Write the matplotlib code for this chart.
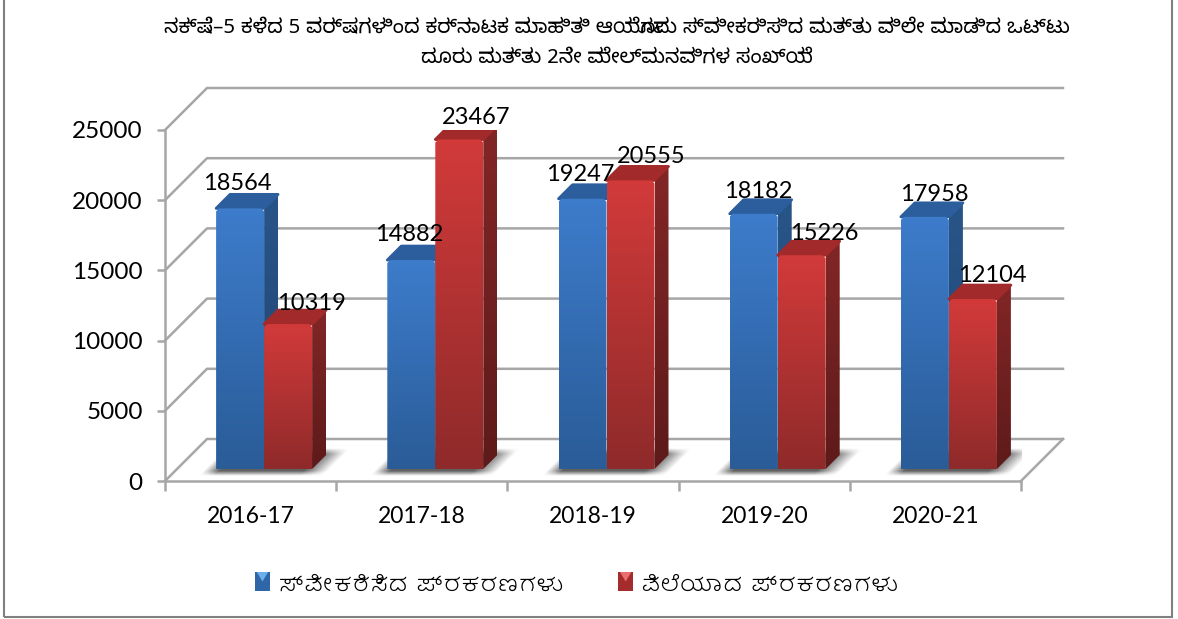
import numpy as np
import matplotlib
matplotlib.use('Agg')
import matplotlib.pyplot as plt
from matplotlib.colors import LinearSegmentedColormap
from matplotlib.legend_handler import HandlerBase
from matplotlib.patches import Polygon, Patch, Rectangle

categories = ['2016-17', '2017-18', '2018-19', '2019-20', '2020-21']
received = [18564, 14882, 19247, 18182, 17958]
disposed = [10319, 23467, 20555, 15226, 12104]
yticks = [0, 5000, 10000, 15000, 20000, 25000]
title = ('ನಕ್ಷೆ–5 ಕಳೆದ 5 ವರ್ಷಗಳಿಂದ ಕರ್ನಾಟಕ ಮಾಹಿತಿ ಆಯೋಗವು ಸ್ವೀಕರಿಸಿದ ಮತ್ತು ವಿಲೇ ಮಾಡಿದ ಒಟ್ಟು\n'
         'ದೂರು ಮತ್ತು 2ನೇ ಮೇಲ್ಮನವಿಗಳ ಸಂಖ್ಯೆ')
legend_labels = ['ಸ್ವೀಕರಿಸಿದ ಪ್ರಕರಣಗಳು', 'ವಿಲೆಯಾದ ಪ್ರಕರಣಗಳು']

W, H = 1178., 619.
plt.rcParams['font.family'] = ['Lato', 'DejaVu Sans']

fig = plt.figure(figsize=(W/100, H/100), dpi=100)
ax = fig.add_axes([165/W, 1-481/H, 856/W, 351/H])
ax.set_facecolor('none')

#pixel size of one category / one y unit, used for the oblique depth
xPx = 856/5.
yPx = 351/25000.
wallPx = 42.

def proj(x, v, d):
    #d is depth, 0 front of the box, 1 back wall
    return (x + d*wallPx/xPx, v + d*wallPx/yPx)

gridCol = '#a6a6a6'
for v in yticks:
    a, b, c = proj(0, v, 0), proj(0, v, 1), proj(5, v, 1)
    ax.plot([a[0], b[0], c[0]], [a[1], b[1], c[1]], color=gridCol, lw=1.8, zorder=1, clip_on=False)
a, b = proj(5, 0, 0), proj(5, 0, 1)
ax.plot([a[0], b[0]], [a[1], b[1]], color=gridCol, lw=1.8, zorder=1, clip_on=False)

blueFront = LinearSegmentedColormap.from_list('b', ['#2a5c98', '#3d7ccb'])
blueSide = LinearSegmentedColormap.from_list('bs', ['#1f4470', '#285589'])
redFront = LinearSegmentedColormap.from_list('r', ['#8f2a2a', '#d23a3a'])
redSide = LinearSegmentedColormap.from_list('rs', ['#5e1a1a', '#822626'])
grad = np.linspace(1, 0, 64).reshape(-1, 1)

def gradPoly(pts, cmap, z):
    p = Polygon(pts, closed=True, facecolor='none', edgecolor='none', transform=ax.transData)
    ax.add_patch(p)
    xs = [q[0] for q in pts]
    ys = [q[1] for q in pts]
    im = ax.imshow(grad, cmap=cmap, aspect='auto', zorder=z, vmin=0, vmax=1,
                   extent=(min(xs), max(xs), min(ys), max(ys)))
    im.set_clip_path(p)

def bar3d(x0, x1, val, front, side, top, z):
    d0, d1 = 12/wallPx, 26/wallPx
    cx, cy = 3/xPx, 3/yPx
    gradPoly([proj(x1, 0, d0), proj(x1, 0, d1), proj(x1, val, d1), proj(x1, val, d0)], side, z)
    ax.add_patch(Polygon([proj(x0, val, d0), proj(x1, val, d0), proj(x1, val, d1), proj(x0, val, d1)],
                         closed=True, fc=top, ec=top, lw=2, joinstyle='round', zorder=z))
    #front face with its top corners cut a little
    gradPoly([proj(x0, 0, d0), proj(x1, 0, d0), proj(x1, val-cy, d0), proj(x1-cx, val, d0),
              proj(x0+cx, val, d0), proj(x0, val-cy, d0)], front, z+0.1)

#soft floor shadow, slanted like the floor
sy, sx = np.mgrid[0:28:56j, 0:150:150j]
su = sx - sy
sAlpha = (np.clip(su/16, 0, 1)*np.clip((124-su)/24, 0, 1)*np.clip(sy/5, 0, 1)*np.clip((28-sy)/6, 0, 1))
shadowImg = np.zeros(sAlpha.shape + (4,))
shadowImg[..., :3] = 0.38
shadowImg[..., 3] = sAlpha

w = 48/xPx
for i in range(len(categories)):
    c = i + 0.5 + 1.5/xPx
    x0 = c - 54/xPx
    ax.imshow(shadowImg, aspect='auto', origin='lower', zorder=1.5,
              extent=(x0, x0 + 150/xPx, 5/yPx, 33/yPx))
    bar3d(c-w, c, received[i], blueFront, blueSide, '#2c5d9c', 2+i)
    bar3d(c, c+w, disposed[i], redFront, redSide, '#a32a2a', 2.5+i)

#value labels sit just off the bar corners, offsets in points
recOff = [(-1, 18), (-0.5, 18.5), (-0.5, 17.5), (4.5, 16), (7.5, 16)]
disOff = [(18, 15), (13.5, 16), (16, 17.5), (17, 16), (15, 17)]
for i in range(len(categories)):
    xa, ya = proj(i+0.5-w/2, received[i], 12/wallPx)
    ax.annotate(str(received[i]), (xa, ya), xytext=recOff[i], textcoords='offset points',
                ha='center', va='center', fontsize=17, color='k', zorder=20)
    xa, ya = proj(i+0.5+w/2, disposed[i], 12/wallPx)
    ax.annotate(str(disposed[i]), (xa, ya), xytext=disOff[i], textcoords='offset points',
                ha='center', va='center', fontsize=17, color='k', zorder=20)

ax.set_xlim(0, 5)
ax.set_ylim(0, 25000)
ax.set_yticks(yticks)
ax.set_xticks(range(6))
ax.set_xticklabels([])
ax.set_xticks([i+0.5 for i in range(5)], categories, minor=True)
ax.tick_params(axis='x', which='major', color=gridCol, width=1.8, length=7)
ax.tick_params(axis='x', which='minor', length=0, labelsize=16.5, pad=18)
ax.tick_params(axis='y', color=gridCol, width=1.8, length=6, labelsize=17.5, pad=10)
for s in ['top', 'right']:
    ax.spines[s].set_visible(False)
for s in ['left', 'bottom']:
    ax.spines[s].set_color(gridCol)
    ax.spines[s].set_linewidth(1.8)

fig.text(617/W, 1-43/H, title, ha='center', va='center', fontsize=14.7, linespacing=1.6,
         family=['Noto Sans Kannada', 'Lato'])
#the frame runs off the top of the picture
fig.add_artist(Rectangle((4/W, 1-617/H), 1168/W, 640/H, transform=fig.transFigure,
                         fc='none', ec='#808080', lw=1.5))

class GlossKey(HandlerBase):
    #square key with the pale wedge at its top edge
    def __init__(self, light):
        HandlerBase.__init__(self)
        self.light = light

    def create_artists(self, legend, orig, xd, yd, width, height, fontsize, trans):
        box = Rectangle((-xd, -yd), width, height, fc=orig.get_facecolor(), ec='none', transform=trans)
        tri = Polygon([(-xd+width*0.12, -yd+height), (-xd+width*0.88, -yd+height), (-xd+width*0.5, -yd+height*0.5)],
                      closed=True, fc=self.light, ec='none', transform=trans)
        return [box, tri]

hBlue = Patch(fc='#2f66a8', label=legend_labels[0])
hRed = Patch(fc='#a52c2c', label=legend_labels[1])
fig.legend(handles=[hBlue, hRed], loc='center', bbox_to_anchor=(577/W, 1-584/H), ncol=2, frameon=False,
           prop={'family': ['Hubballi', 'Lato'], 'size': 19.5},
           handlelength=0.55, handleheight=0.7, handletextpad=0.3, columnspacing=2.0,
           handler_map={hBlue: GlossKey('#69b0ec'), hRed: GlossKey('#ea7070')})
fig.savefig('out.png', dpi=100)
